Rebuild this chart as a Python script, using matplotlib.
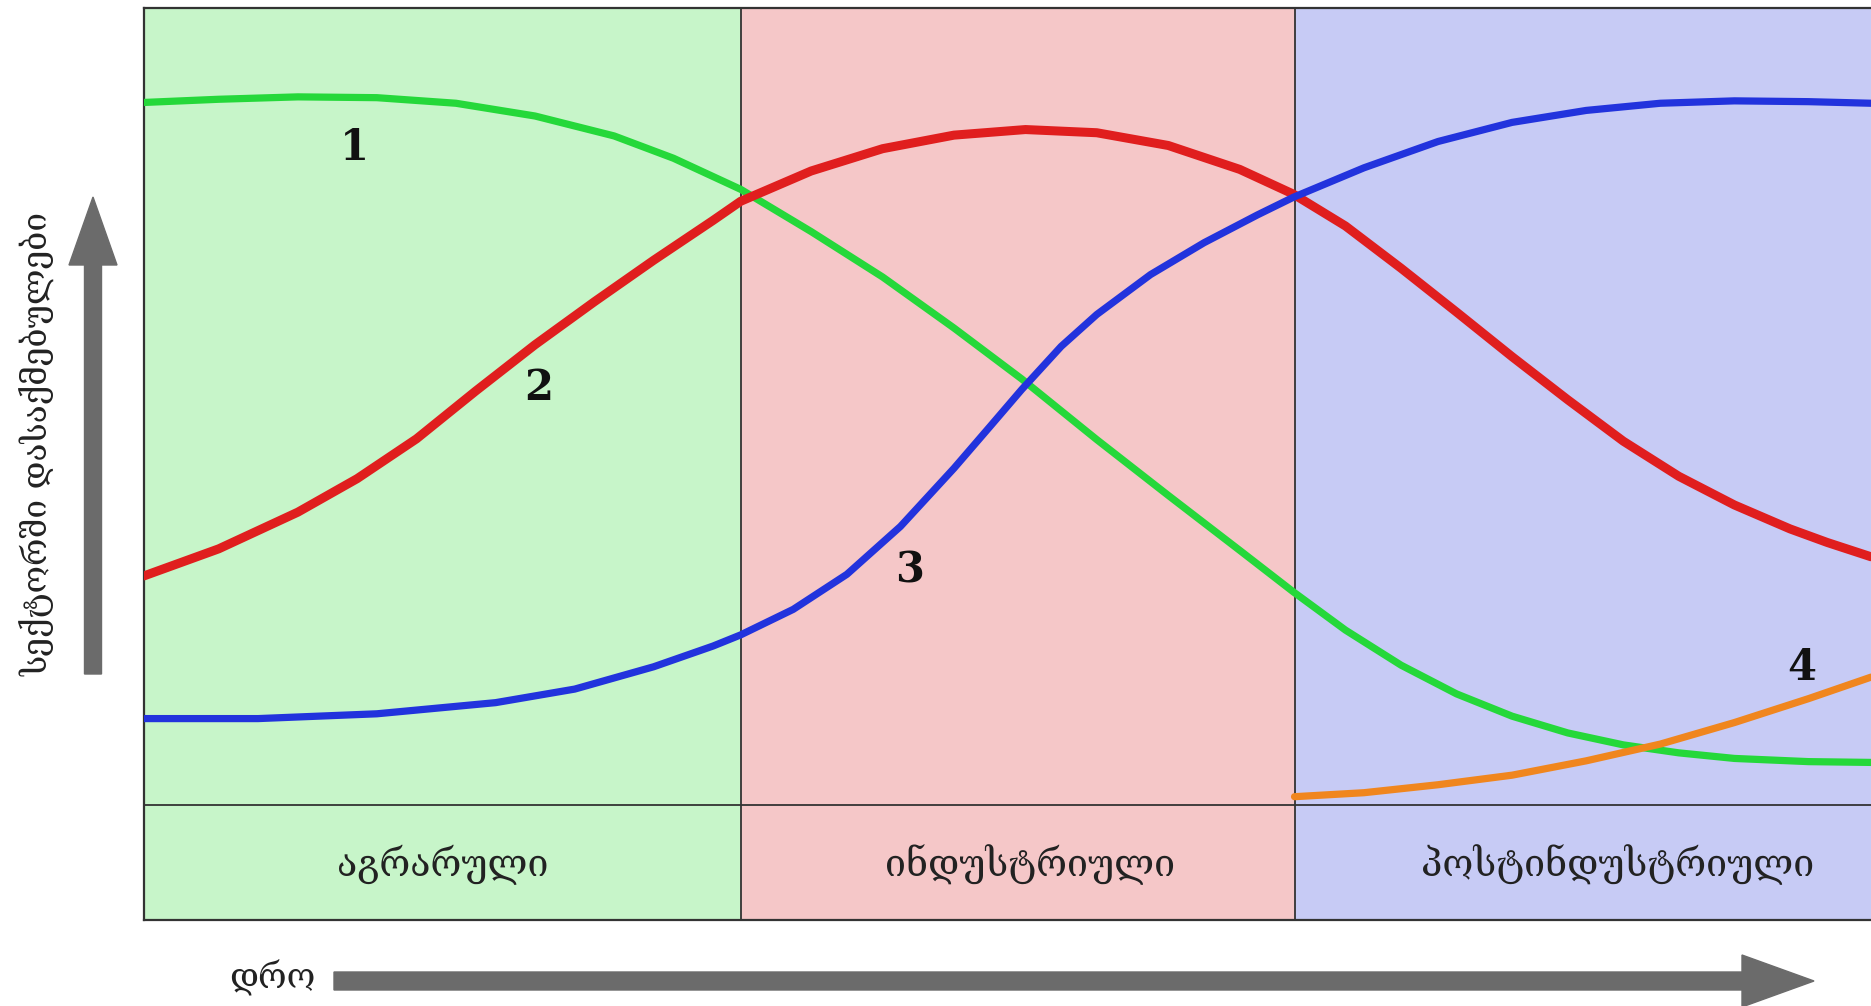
import matplotlib
matplotlib.use("Agg")
import matplotlib.pyplot as plt
from matplotlib.patches import FancyArrow

plt.rcParams['font.family'] = ['DejaVu Serif', 'DejaVu Sans']

# ---- data (time 0..100, share 0..100) ----
stage_names = ["აგრარული", "ინდუსტრიული", "პოსტინდუსტრიული"]
stage_bounds = [0.0, 34.55, 66.62, 100.0]
stage_label_x = [17.3, 51.3, 85.3]
stage_colors = ["#c7f5c9", "#f5c7c8", "#c7cbf5"]

green_x = [0, 4.33, 8.91, 13.48, 18.06, 22.64, 27.22, 30.66, 34.55, 38.63, 42.77,
           46.90, 50.83, 55.17, 59.31, 63.45, 66.55, 69.57, 72.79, 76.0, 79.22,
           82.44, 85.66, 88.87, 92.09, 96.38, 100]
green_y = [88.2, 88.6, 88.9, 88.8, 88.1, 86.5, 84.0, 81.2, 77.3, 72.0, 66.3,
           59.9, 53.5, 45.9, 38.9, 32.0, 26.8, 22.0, 17.6, 14.0, 11.2,
           9.1, 7.6, 6.6, 5.9, 5.5, 5.4]

red_x = [0, 4.33, 8.91, 12.34, 15.78, 19.21, 22.64, 26.08, 29.51, 32.95, 34.55,
         38.63, 42.77, 46.90, 51.04, 55.17, 59.31, 63.45, 66.55, 69.57, 72.79,
         76.0, 79.22, 82.44, 85.66, 88.87, 92.09, 95.31, 97.46, 100]
red_y = [28.8, 32.2, 36.8, 41.0, 46.0, 52.0, 57.8, 63.2, 68.4, 73.4, 75.8,
         79.6, 82.4, 84.1, 84.8, 84.4, 82.8, 79.8, 76.7, 72.7, 67.4,
         61.9, 56.3, 50.9, 45.7, 41.3, 37.7, 34.7, 33.0, 31.2]

blue_x = [0, 6.61, 13.48, 20.36, 24.94, 29.51, 32.95, 34.55, 37.59, 40.70,
          43.80, 46.90, 48.97, 50.83, 53.11, 55.17, 58.28, 61.38, 64.48, 66.55,
          70.64, 74.93, 79.22, 83.51, 87.80, 92.09, 96.38, 100]
blue_y = [10.9, 10.9, 11.5, 12.9, 14.6, 17.4, 20.0, 21.4, 24.6, 29.0,
          35.0, 42.3, 47.5, 52.2, 57.6, 61.6, 66.6, 70.6, 74.1, 76.3,
          80.0, 83.3, 85.7, 87.2, 88.1, 88.4, 88.3, 88.1]

orange_x = [66.62, 70.64, 74.93, 79.22, 83.51, 87.80, 92.09, 96.38, 100]
orange_y = [1.1, 1.6, 2.6, 3.8, 5.6, 7.7, 10.4, 13.4, 16.1]

curve_labels = ["1", "2", "3", "4"]
curve_label_x = [12.16, 22.87, 44.3, 96.0]
curve_label_y = [82.5, 52.4, 29.5, 17.2]

y_label = "სექტორში დასაქმებულები"
x_label = "დრო"

# ---- figure ----
W, H = 1871, 1006
fig = plt.figure(figsize=(W / 100, H / 100), dpi=100)
band_h = 14.37
ax = fig.add_axes([144 / W, 1 - 920 / H, 1 - 144 / W, (920 - 8.4) / H])
ax.set_xlim(0, 100)
ax.set_ylim(-band_h, 100)

edge = "#333333"
for i, name in enumerate(stage_names):
    x0, x1 = stage_bounds[i], stage_bounds[i + 1]
    ax.axvspan(x0, x1, color=stage_colors[i], zorder=0, lw=0)
    ax.text(stage_label_x[i], -band_h / 2 - 0.3, name, ha="center", va="center",
            fontsize=27, color="#222222")
    if i > 0:
        ax.axvline(x0, color=edge, lw=1.3, zorder=1)
ax.axhline(0, color=edge, lw=1.3, zorder=1)

lw = 5.2
style = dict(solid_capstyle="round", solid_joinstyle="round")
ax.plot(green_x, green_y, color="#25d83a", lw=lw, zorder=3, **style)
ax.plot(red_x, red_y, color="#e01e1e", lw=6.5, zorder=3, **style)
ax.plot(blue_x, blue_y, color="#2233dd", lw=lw, zorder=4, **style)
ax.plot(orange_x, orange_y, color="#f0861e", lw=lw, zorder=4, **style)

for t, x, y in zip(curve_labels, curve_label_x, curve_label_y):
    ax.text(x, y, t, ha="center", va="center", fontsize=30, fontweight="bold",
            color="#111111", zorder=5)

ax.set_xticks([])
ax.set_yticks([])
for s in ["left", "top", "bottom"]:
    ax.spines[s].set_color(edge)
    ax.spines[s].set_linewidth(1.6)
ax.spines["right"].set_visible(False)

# ---- axis arrows ----
gray = "#6b6b6b"
fig.patches.append(FancyArrow(93, H - 674, 0, 674 - 197, width=17, head_width=48,
                              head_length=68, length_includes_head=True,
                              color=gray, transform=None, figure=fig))
fig.patches.append(FancyArrow(334, H - 981, 1814 - 334, 0, width=18, head_width=52,
                              head_length=72, length_includes_head=True,
                              color=gray, transform=None, figure=fig))

fig.text(38 / W, 1 - 444 / H, y_label, rotation=90, ha="center", va="center",
         fontsize=24, color="#222222")
fig.text(272 / W, 1 - 978 / H, x_label, ha="center", va="center",
         fontsize=25, color="#222222")

fig.savefig("out.png", dpi=100)
